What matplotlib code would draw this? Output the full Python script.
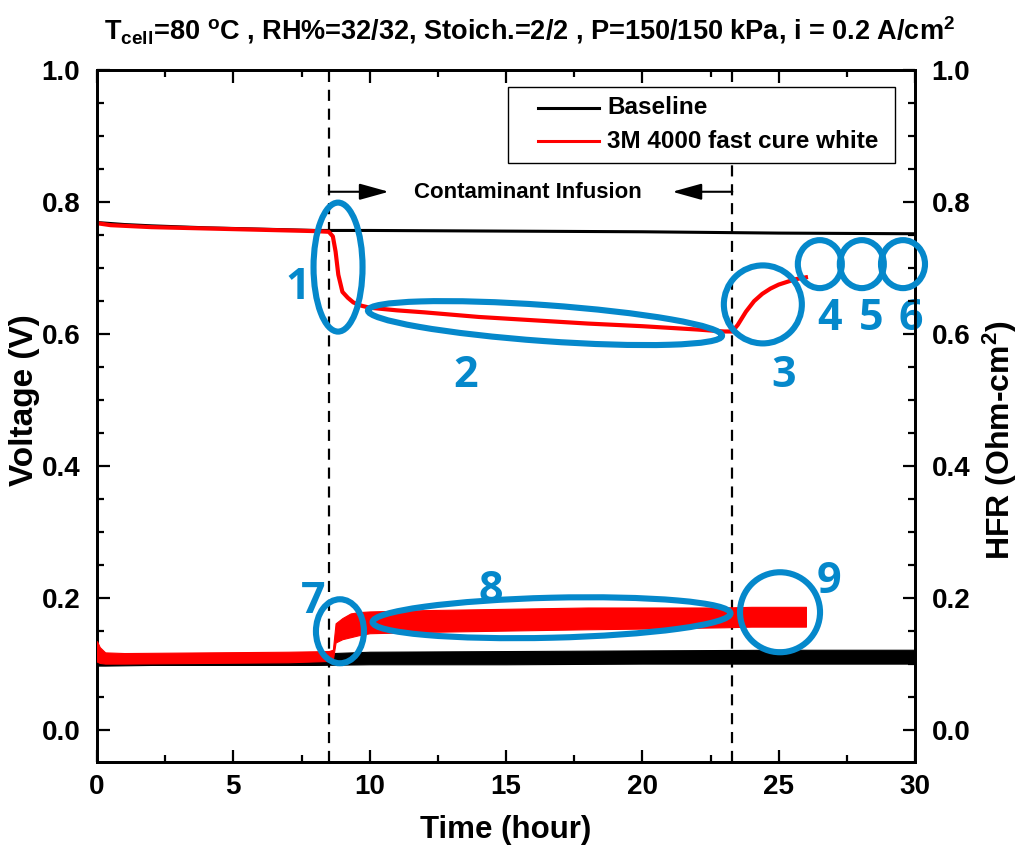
import matplotlib
matplotlib.use("Agg")
import matplotlib.pyplot as plt
from matplotlib.patches import Ellipse, Rectangle
from matplotlib.lines import Line2D
from matplotlib.transforms import ScaledTranslation
from matplotlib.ticker import MultipleLocator, FormatStrFormatter

plt.rcParams['font.family'] = ['Liberation Sans', 'DejaVu Sans']
plt.rcParams['font.weight'] = 'bold'
plt.rcParams['mathtext.default'] = 'regular'

# ---------------- data ----------------
# Voltage (left axis)
t_base_v = [0, 1, 2, 4, 6, 8, 10, 15, 20, 25, 30]
v_base = [0.769, 0.766, 0.764, 0.761, 0.759, 0.757, 0.757, 0.756, 0.755, 0.753, 0.752]

t_red_v = [0, 0.5, 1, 2, 3, 4, 6, 8, 8.5, 8.65, 8.75, 8.85, 9.0, 9.2, 9.4, 9.7, 10, 11, 12,
           14, 16, 18, 20, 22, 23, 23.3, 23.5, 23.8, 24.1, 24.4, 24.7, 25, 25.3, 25.6, 26]
v_red = [0.768, 0.765, 0.764, 0.762, 0.761, 0.760, 0.758, 0.756, 0.755, 0.748, 0.725, 0.690,
         0.664, 0.655, 0.648, 0.643, 0.640, 0.636, 0.633, 0.626, 0.621, 0.616, 0.612, 0.607,
         0.604, 0.604, 0.614, 0.634, 0.650, 0.661, 0.669, 0.675, 0.679, 0.683, 0.686]

# HFR (right axis) - noisy bands given as lower / upper envelopes
t_base_h = [0, 0.3, 2, 5, 8, 10, 15, 20, 25, 30]
h_base_lo = [0.098, 0.098, 0.099, 0.099, 0.099, 0.100, 0.100, 0.101, 0.101, 0.101]
h_base_hi = [0.114, 0.112, 0.113, 0.114, 0.116, 0.119, 0.120, 0.121, 0.122, 0.122]

t_red_h = [0, 0.1, 0.3, 1, 4, 7, 8.5, 8.65, 8.75, 9.0, 9.3, 9.6, 10, 12, 15, 18, 20, 23, 24, 26]
h_red_lo = [0.104, 0.102, 0.101, 0.101, 0.102, 0.103, 0.105, 0.107, 0.133, 0.138, 0.141,
            0.144, 0.147, 0.149, 0.151, 0.153, 0.154, 0.156, 0.157, 0.157]
h_red_hi = [0.135, 0.126, 0.118, 0.117, 0.118, 0.119, 0.120, 0.122, 0.162, 0.170, 0.177,
            0.179, 0.180, 0.182, 0.184, 0.186, 0.186, 0.186, 0.187, 0.187]

infusion_start = 8.5
infusion_end = 23.3

series_labels = ["Baseline", "3M 4000 fast cure white"]
series_colors = ["black", "red"]
blue = '#0588CB'

W, H = 1019, 850

# ---------------- figure ----------------
fig = plt.figure(figsize=(W / 100, H / 100), dpi=100)
ax = fig.add_axes([97 / W, 88 / H, 818 / W, 692 / H])
ax2 = ax.twinx()

ax.set_xlim(0, 30)
ax.set_ylim(-0.048, 1.0)
ax2.set_ylim(-0.048, 1.0)

ax.plot(t_base_v, v_base, color=series_colors[0], lw=2.2, zorder=3)
ax.plot(t_red_v, v_red, color=series_colors[1], lw=3.0, zorder=4)

ax2.fill_between(t_base_h, h_base_lo, h_base_hi, color=series_colors[0], lw=0.8, zorder=3)
ax2.fill_between(t_red_h, h_red_lo, h_red_hi, color=series_colors[1], lw=0.8, zorder=4)

for xv in (infusion_start, infusion_end):
    ax.axvline(xv, color='black', lw=1.6, ls=(0, (5, 3.5)), zorder=2)

# arrows + text
arrow_kw = dict(arrowstyle='-|>,head_length=0.9,head_width=0.25', color='black',
                lw=1.5, mutation_scale=20, shrinkA=0, shrinkB=0)
ax.annotate('', xy=(10.7, 0.8156), xytext=(infusion_start, 0.8156), arrowprops=arrow_kw)
ax.annotate('', xy=(21.1, 0.8156), xytext=(infusion_end, 0.8156), arrowprops=arrow_kw)
ax.text(15.82, 0.815, 'Contaminant Infusion', ha='center', va='center', fontsize=16,
        fontweight='bold')

# ticks
for a in (ax, ax2):
    a.tick_params(which='major', direction='in', length=9, width=1.6, labelsize=20)
    a.tick_params(which='minor', direction='in', length=5, width=1.6)
ax.tick_params(top=True, which='both')
ax.xaxis.set_major_locator(MultipleLocator(5))
ax.xaxis.set_minor_locator(MultipleLocator(2.5))
for a in (ax, ax2):
    a.yaxis.set_major_locator(MultipleLocator(0.2))
    a.yaxis.set_minor_locator(MultipleLocator(0.05))
    a.yaxis.set_major_formatter(FormatStrFormatter('%.1f'))
    for s in a.spines.values():
        s.set_linewidth(2.0)
ax.tick_params(axis='x', pad=9)
ax.tick_params(axis='y', pad=12)
ax2.tick_params(axis='y', pad=12)

# labels
fig.text(506 / W, 1 - 830 / H, 'Time (hour)', ha='center', va='center', fontsize=22.5,
         fontweight='bold')
fig.text(25 / W, 1 - 400 / H, 'Voltage (V)', ha='center', va='center', fontsize=24,
         fontweight='bold', rotation=90)
fig.text(1000 / W, 1 - 440 / H, 'HFR (Ohm-cm$^{2}$)', ha='center', va='center', fontsize=23,
         fontweight='bold', rotation=90)
fig.text(530 / W, 1 - 30 / H,
         'T$_{cell}$=80 $^{o}$C , RH%=32/32, Stoich.=2/2 , P=150/150 kPa, i = 0.2 A/cm$^{2}$',
         ha='center', va='center', fontsize=19.5, fontweight='bold')

# legend (drawn manually to match the boxed layout)
fig.add_artist(Rectangle((508 / W, 1 - 163 / H), 387 / W, 76 / H, transform=fig.transFigure,
                         fill=True, facecolor='white', edgecolor='black', lw=1.0, zorder=10))
for i, (lab, col) in enumerate(zip(series_labels, series_colors)):
    yy = 1 - (108 + 33 * i) / H
    fig.add_artist(Line2D([538 / W, 599 / W], [yy, yy], transform=fig.transFigure,
                          color=col, lw=2.2, zorder=11))
    fig.text(607 / W, yy, lab, ha='left', va='center', fontsize=17.5, fontweight='bold',
             zorder=11)


# annotations (blue ellipses, pixel-sized at data anchors)
def ell(xc, yc, wpx, hpx, angle=0):
    tr = fig.dpi_scale_trans + ScaledTranslation(xc, yc, ax.transData)
    e = Ellipse((0, 0), wpx / 100, hpx / 100, angle=angle, transform=tr, fill=False,
                edgecolor=blue, lw=4.4, zorder=8, clip_on=False)
    fig.add_artist(e)


ell(8.84, 0.7015, 49, 129)
ell(16.43, 0.6167, 355, 36, -4.1)
ell(24.42, 0.645, 78, 78)
ell(26.51, 0.706, 44, 48)
ell(28.05, 0.706, 44, 48)
ell(29.56, 0.706, 44, 48)
ell(8.91, 0.150, 48, 64)
ell(16.67, 0.1705, 358, 40, 1.4)
ell(25.05, 0.1788, 80, 80)

nums = [('1', 7.35, 0.67), ('2', 13.53, 0.538), ('3', 25.19, 0.538), ('4', 26.88, 0.624),
        ('5', 28.40, 0.624), ('6', 29.85, 0.624), ('7', 7.92, 0.195), ('8', 14.45, 0.211),
        ('9', 26.85, 0.226)]
for s, x, y in nums:
    ax.text(x, y, s, color=blue, fontsize=31, fontweight='bold',
            family=['Open Sans', 'DejaVu Sans'],
            ha='center', va='center', zorder=9, clip_on=False)

fig.savefig('out.png', dpi=100)
